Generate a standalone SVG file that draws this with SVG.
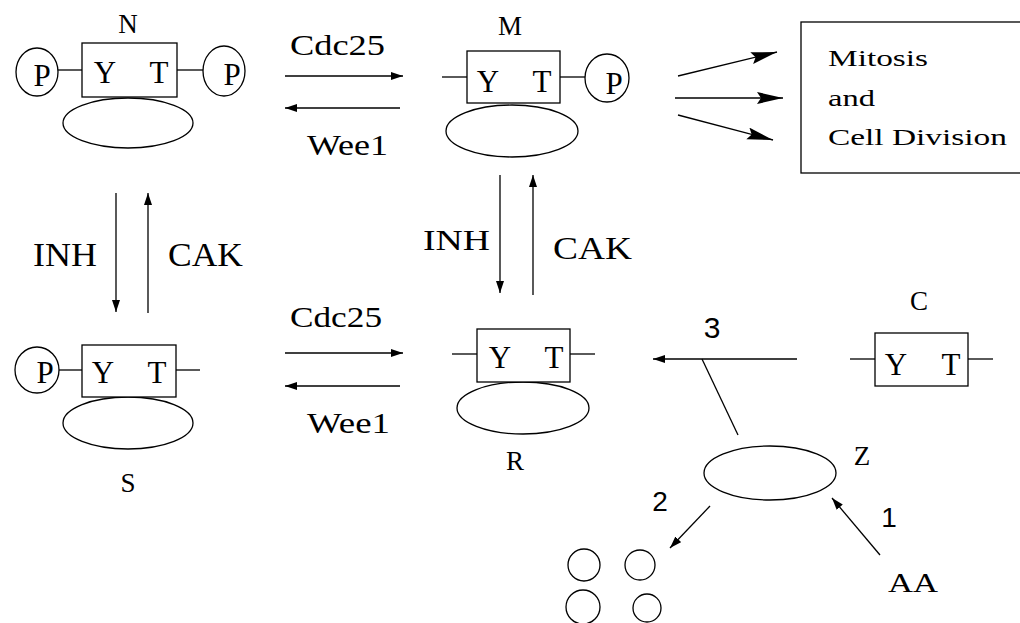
<svg xmlns="http://www.w3.org/2000/svg" width="1020" height="623" viewBox="0 0 1020 623">
<defs>
<style>
.ln{stroke:#000;stroke-width:1.3;fill:none}
.sh{stroke:#000;stroke-width:1.3;fill:#fff}
.t{font-family:"Liberation Serif","Times New Roman",serif;fill:#000}
.s{font-family:"Liberation Sans",Arial,sans-serif;fill:#000}
.yt{font-size:31px}
.lb{font-size:27px}
.m{text-anchor:middle}
</style>
<marker id="ah" markerUnits="userSpaceOnUse" markerWidth="14" markerHeight="10" refX="12" refY="4" orient="auto">
<path d="M0,0 L12,4 L0,8 z" fill="#000"/>
</marker>
<marker id="big" markerUnits="userSpaceOnUse" markerWidth="28" markerHeight="14" refX="26" refY="6" orient="auto">
<path d="M0,0 L26,6 L0,12 L4,6 z" fill="#000"/>
</marker>
</defs>
<rect width="1020" height="623" fill="#fff"/>

<g id="connectors">
<line class="ln" x1="285" y1="76" x2="403" y2="76" marker-end="url(#ah)"/>
<line class="ln" x1="400" y1="108" x2="285" y2="108" marker-end="url(#ah)"/>
<line class="ln" x1="116" y1="193" x2="116" y2="312" marker-end="url(#ah)"/>
<line class="ln" x1="148" y1="313" x2="148" y2="193" marker-end="url(#ah)"/>
<line class="ln" x1="500" y1="175" x2="500" y2="293" marker-end="url(#ah)"/>
<line class="ln" x1="533" y1="295" x2="533" y2="175" marker-end="url(#ah)"/>
<line class="ln" x1="285" y1="353" x2="403" y2="353" marker-end="url(#ah)"/>
<line class="ln" x1="400" y1="386" x2="285" y2="386" marker-end="url(#ah)"/>
<line class="ln" x1="797" y1="359" x2="653" y2="359" marker-end="url(#ah)"/>
<line class="ln" x1="702" y1="359" x2="738" y2="435"/>
<line class="ln" x1="710" y1="506" x2="670" y2="548" marker-end="url(#ah)"/>
<line class="ln" x1="880" y1="555" x2="832" y2="498" marker-end="url(#ah)"/>
<line class="ln" x1="678" y1="76" x2="777" y2="52" marker-end="url(#big)"/>
<line class="ln" x1="675" y1="98" x2="783" y2="98" marker-end="url(#big)"/>
<line class="ln" x1="678" y1="115" x2="773" y2="140" marker-end="url(#big)"/>
</g>

<g id="edge-labels">
<text class="t" x="290" y="55" font-size="29" textLength="95" lengthAdjust="spacingAndGlyphs">Cdc25</text>
<text class="t" x="307" y="155" font-size="30" textLength="81" lengthAdjust="spacingAndGlyphs">Wee1</text>
<text class="t" x="33" y="266" font-size="33" textLength="64" lengthAdjust="spacingAndGlyphs">INH</text>
<text class="t" x="168" y="266" font-size="33" textLength="75" lengthAdjust="spacingAndGlyphs">CAK</text>
<text class="t" x="423" y="250" font-size="30" textLength="67" lengthAdjust="spacingAndGlyphs">INH</text>
<text class="t" x="553" y="259" font-size="31" textLength="79" lengthAdjust="spacingAndGlyphs">CAK</text>
<text class="t" x="290" y="327" font-size="29" textLength="92" lengthAdjust="spacingAndGlyphs">Cdc25</text>
<text class="t" x="307" y="433" font-size="30" textLength="83" lengthAdjust="spacingAndGlyphs">Wee1</text>
<text class="s m" x="712" y="338" font-size="30">3</text>
<text class="s m" x="660" y="511" font-size="28">2</text>
<text class="s m" x="889" y="527" font-size="28">1</text>
</g>

<g id="nodeN">
<text class="t lb m" x="128" y="33">N</text>
<ellipse class="sh" cx="128" cy="123" rx="65" ry="25"/>
<rect class="sh" x="82" y="43" width="95" height="54"/>
<text class="t yt m" x="105" y="83">Y</text>
<text class="t yt m" x="159" y="83">T</text>
<line class="ln" x1="58" y1="70" x2="82" y2="70"/>
<line class="ln" x1="177" y1="70" x2="203" y2="70"/>
<ellipse class="sh" cx="37" cy="72" rx="21" ry="24"/>
<text class="t yt m" x="42" y="86">P</text>
<ellipse class="sh" cx="224" cy="71" rx="21" ry="25"/>
<text class="t yt m" x="232" y="85">P</text>
</g>

<g id="nodeM">
<text class="t lb m" x="510" y="35">M</text>
<ellipse class="sh" cx="512" cy="131" rx="66" ry="26"/>
<rect class="sh" x="467" y="51" width="93" height="52"/>
<text class="t yt m" x="488" y="92">Y</text>
<text class="t yt m" x="542" y="92">T</text>
<line class="ln" x1="442" y1="77" x2="467" y2="77"/>
<line class="ln" x1="560" y1="77" x2="585" y2="77"/>
<ellipse class="sh" cx="607" cy="78" rx="22" ry="24"/>
<text class="t yt m" x="614" y="94">P</text>
</g>

<g id="mitosis">
<rect class="sh" x="801" y="22" width="230" height="151"/>
<text class="t" x="828" y="66" font-size="24" textLength="100" lengthAdjust="spacingAndGlyphs">Mitosis</text>
<text class="t" x="828" y="106" font-size="24" textLength="47" lengthAdjust="spacingAndGlyphs">and</text>
<text class="t" x="828" y="145" font-size="24" textLength="179" lengthAdjust="spacingAndGlyphs">Cell Division</text>
</g>

<g id="nodeS">
<ellipse class="sh" cx="128" cy="423" rx="65" ry="26"/>
<rect class="sh" x="82" y="345" width="94" height="52"/>
<text class="t yt m" x="103" y="383">Y</text>
<text class="t yt m" x="157" y="383">T</text>
<line class="ln" x1="59" y1="370" x2="82" y2="370"/>
<line class="ln" x1="176" y1="370" x2="200" y2="370"/>
<ellipse class="sh" cx="37" cy="370" rx="22" ry="23"/>
<text class="t yt m" x="45" y="383">P</text>
<text class="t lb m" x="128" y="492">S</text>
</g>

<g id="nodeR">
<ellipse class="sh" cx="523" cy="408" rx="66" ry="26"/>
<rect class="sh" x="477" y="329" width="93" height="53"/>
<text class="t yt m" x="500" y="368">Y</text>
<text class="t yt m" x="554" y="368">T</text>
<line class="ln" x1="452" y1="354" x2="477" y2="354"/>
<line class="ln" x1="570" y1="354" x2="595" y2="354"/>
<text class="t lb m" x="515" y="470">R</text>
</g>

<g id="nodeC">
<text class="t lb m" x="919" y="310">C</text>
<rect class="sh" x="875" y="333" width="93" height="53"/>
<text class="t yt m" x="896" y="375">Y</text>
<text class="t yt m" x="951" y="375">T</text>
<line class="ln" x1="850" y1="359" x2="875" y2="359"/>
<line class="ln" x1="968" y1="359" x2="993" y2="359"/>
</g>

<g id="nodeZ">
<ellipse class="sh" cx="770" cy="473" rx="66" ry="27"/>
<text class="t lb m" x="862" y="465">Z</text>
</g>

<g id="nodeAA">
<text class="t" x="888" y="592" font-size="28" textLength="50" lengthAdjust="spacingAndGlyphs">AA</text>
</g>

<g id="products">
<circle class="sh" cx="584" cy="565" r="16"/>
<circle class="sh" cx="640" cy="565" r="15"/>
<circle class="sh" cx="583" cy="607" r="17"/>
<circle class="sh" cx="647" cy="608" r="14"/>
</g>
</svg>
